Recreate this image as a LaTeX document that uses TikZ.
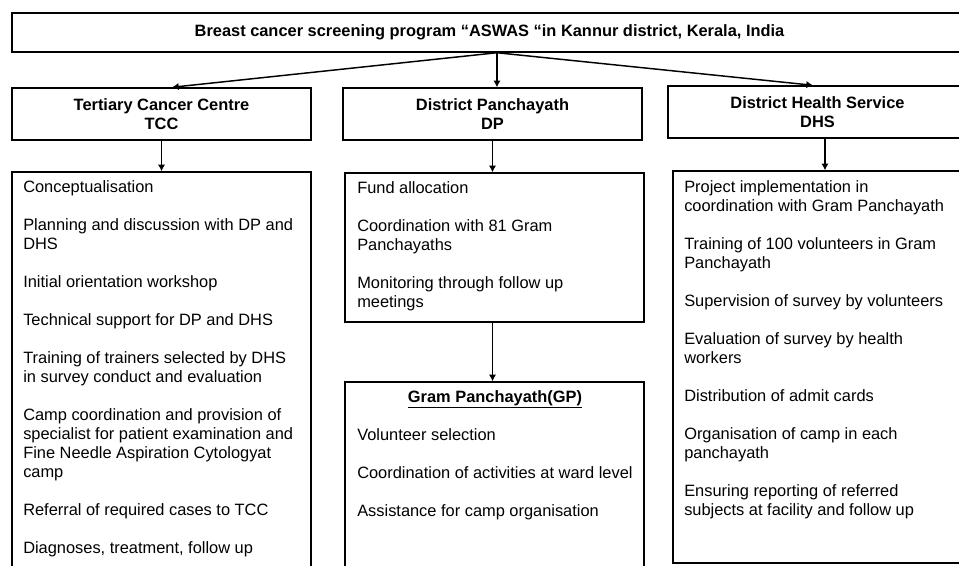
\documentclass[tikz,border=0pt]{standalone}
\usepackage{fontspec}
\setmainfont{Liberation Sans}
\usetikzlibrary{fit,arrows.meta}

\tikzset{
	box/.style={draw, line width=1.1pt, inner sep=0pt},
	headbox/.style={box, align=center, minimum width=224.25pt, minimum height=39pt, font=\fontsize{12.3pt}{14.25pt}\selectfont\bfseries},
	listtext/.style={anchor=north west, inner sep=0pt, align=left, font=\fontsize{12.3pt}{14.25pt}\selectfont}
}

\begin{document}
\begin{tikzpicture}[>={Latex[length=5pt,width=5.5pt]},x=0.75pt,y=-0.75pt]
	\fill[white,use as bounding box] (0,0) rectangle (959,565);
	\clip (0,0) rectangle (959,565);

	% top and the three partners
	\node[headbox, minimum width=716.25pt, minimum height=29.25pt] (title) at (489.5,32.5) {Breast cancer screening program “ASWAS “in Kannur district, Kerala, India};
	\node[headbox] (tcc) at (161.5,114) {Tertiary Cancer Centre\\TCC};
	\node[headbox] (dp) at (492.5,114) {District Panchayath\\DP};
	\node[headbox] (dhs) at (817.5,112) {District Health Service\\DHS};

	% task boxes
	\node[box, fit={(12,172) (311,600)}] (tccbox) {};
	\node[box, fit={(345,173) (644,322)}] (dpbox) {};
	\node[box, fit={(345,382) (644,600)}] (gpbox) {};
	\node[box, fit={(673,171) (975,563)}] (dhsbox) {};

	\node[listtext] (tcctext) at (23,180.5) {Conceptualisation\\[14.25pt]
		Planning and discussion with DP and\\DHS\\[14.25pt]
		Initial orientation workshop\\[14.25pt]
		Technical support for DP and DHS\\[14.25pt]
		Training of trainers selected by DHS\\in survey conduct and evaluation\\[14.25pt]
		Camp coordination and provision of\\specialist for patient examination and\\Fine Needle Aspiration Cytologyat\\camp\\[14.25pt]
		Referral of required cases to TCC\\[14.25pt]
		Diagnoses, treatment, follow up};
	\node[listtext] (dptext) at (357,181.5) {Fund allocation\\[14.25pt]
		Coordination with 81 Gram\\Panchayaths\\[14.25pt]
		Monitoring through follow up\\meetings};
	\node[anchor=base, inner sep=0pt, font=\fontsize{12.3pt}{14.25pt}\selectfont\bfseries] (gphead) at (495,402) {\underline{Gram Panchayath(GP)}};
	\node[listtext] (gptext) at (357,428.5) {Volunteer selection\\[14.25pt]
		Coordination of activities at ward level\\[14.25pt]
		Assistance for camp organisation};
	\node[listtext] (dhstext) at (684,180.5) {Project implementation in\\coordination with Gram Panchayath\\[14.25pt]
		Training of 100 volunteers in Gram\\Panchayath\\[14.25pt]
		Supervision of survey by volunteers\\[14.25pt]
		Evaluation of survey by health\\workers\\[14.25pt]
		Distribution of admit cards\\[14.25pt]
		Organisation of camp in each\\panchayath\\[14.25pt]
		Ensuring reporting of referred\\subjects at facility and follow up};

	% arrows
	\begin{scope}[line width=1.1pt]
		\coordinate (fan) at ([xshift=5.6pt]title.south);
		\draw[->] (fan) -- ([xshift=7.9pt]tcc.north);
		\draw[->] (fan) -- (fan |- dp.north);
		\draw[->] (fan) -- ([xshift=-3.4pt]dhs.north);
		\draw[->] (tcc) -- (tccbox);
		\draw[->] (dp.south) -- (dp.south |- dpbox.north);
		\draw[->] ([xshift=5.6pt]dhs.south) -- ([xshift=5.6pt]dhs.south |- dhsbox.north);
		\draw[->] (dp.south |- dpbox.south) -- (dp.south |- gpbox.north);
	\end{scope}
\end{tikzpicture}
\end{document}
